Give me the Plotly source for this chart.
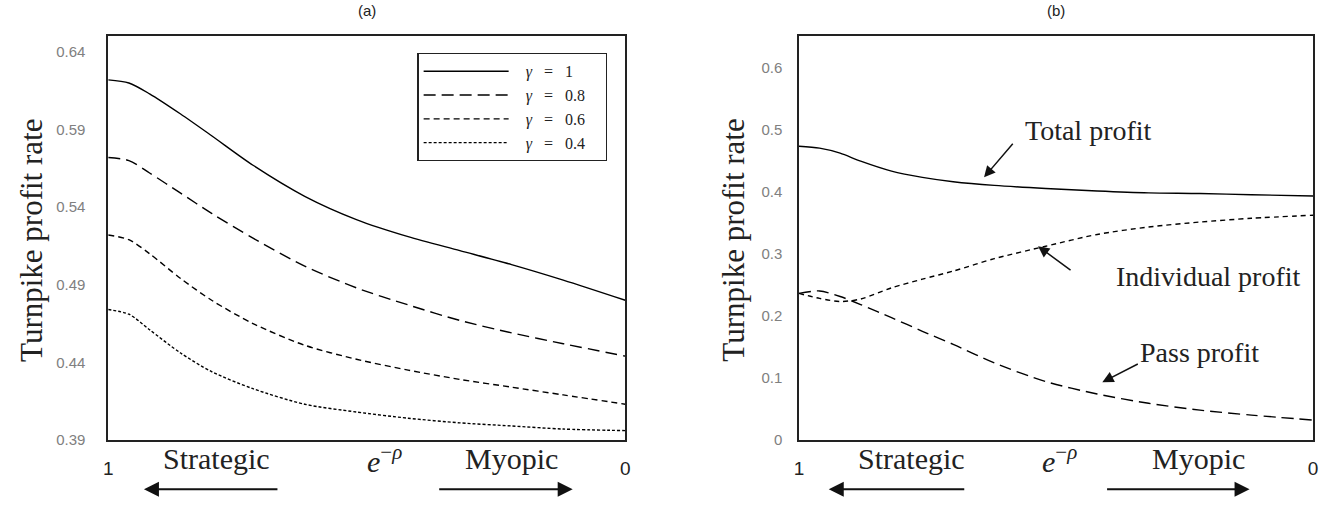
import plotly.graph_objects as go

# ---------- data: panel (a) ----------
x_a = [1.0, 0.96, 0.92, 0.86, 0.80, 0.72, 0.62, 0.52, 0.42, 0.32, 0.22, 0.12, 0.0]
gamma_1 = [0.622, 0.620, 0.613, 0.600, 0.586, 0.567, 0.547, 0.532, 0.521, 0.512, 0.503, 0.493, 0.480]
gamma_08 = [0.572, 0.570, 0.562, 0.549, 0.536, 0.520, 0.502, 0.488, 0.477, 0.467, 0.459, 0.452, 0.444]
gamma_06 = [0.522, 0.519, 0.510, 0.494, 0.480, 0.465, 0.451, 0.442, 0.435, 0.429, 0.424, 0.419, 0.413]
gamma_04 = [0.474, 0.471, 0.461, 0.446, 0.434, 0.423, 0.413, 0.408, 0.404, 0.401, 0.399, 0.397, 0.396]
NB = "\u00a0"
legend_a = [NB * 3 + "<i>γ</i>" + NB * 3 + "=" + NB * 3 + "1",
            NB * 3 + "<i>γ</i>" + NB * 3 + "=" + NB * 3 + "0.8" + NB * 4,
            NB * 3 + "<i>γ</i>" + NB * 3 + "=" + NB * 3 + "0.6",
            NB * 3 + "<i>γ</i>" + NB * 3 + "=" + NB * 3 + "0.4"]
yticks_a = [0.39, 0.44, 0.49, 0.54, 0.59, 0.64]

# ---------- data: panel (b) ----------
x_b = [1.0, 0.96, 0.92, 0.88, 0.82, 0.76, 0.70, 0.62, 0.52, 0.42, 0.32, 0.22, 0.12, 0.0]
total_profit = [0.473, 0.470, 0.462, 0.449, 0.433, 0.423, 0.416, 0.410, 0.405, 0.401, 0.398, 0.397, 0.395, 0.393]
individual_profit = [0.236, 0.228, 0.223, 0.227, 0.245, 0.259, 0.272, 0.292, 0.312, 0.331, 0.343, 0.351, 0.357, 0.362]
pass_profit = [0.236, 0.240, 0.231, 0.218, 0.197, 0.175, 0.154, 0.124, 0.094, 0.074, 0.059, 0.048, 0.040, 0.032]
yticks_b = [0, 0.1, 0.2, 0.3, 0.4, 0.5, 0.6]
xticks = [1, 0]
xtick_text = ["1", "0"]

SERIF = "Liberation Serif, Times New Roman, serif"
SANS = "Liberation Sans, Arial, sans-serif"

fig = go.Figure()

dashes_a = ["solid", "12px,6px", "6px,4px", "3px,2px"]
for ys, name, d in zip([gamma_1, gamma_08, gamma_06, gamma_04], legend_a, dashes_a):
    fig.add_trace(go.Scatter(x=x_a, y=ys, mode="lines", name=name,
                             line=dict(color="black", width=1.4, dash=d, shape="spline", smoothing=0.8),
                             xaxis="x", yaxis="y", showlegend=True))

for ys, name, d in zip([total_profit, individual_profit, pass_profit],
                       ["Total profit", "Individual profit", "Pass profit"],
                       ["solid", "5px,4px", "12px,6px"]):
    fig.add_trace(go.Scatter(x=x_b, y=ys, mode="lines", name=name,
                             line=dict(color="black", width=1.4, dash=d, shape="spline", smoothing=0.8),
                             xaxis="x2", yaxis="y2", showlegend=False))

W, H = 1331, 506
ax_common = dict(showline=True, mirror=True, linecolor="#222", linewidth=1.5, showgrid=False, zeroline=False,
                 ticks="")
fig.update_layout(
    width=W, height=H,
    margin=dict(l=0, r=0, t=0, b=0),
    plot_bgcolor="white", paper_bgcolor="white",
    xaxis=dict(domain=[104 / W, 625 / W], range=[1, 0], tickvals=xticks, ticktext=xtick_text,
               tickfont=dict(family=SANS, size=19, color="#222"), ticklabelstandoff=11, **ax_common),
    yaxis=dict(domain=[(H - 447) / H, (H - 37) / H], range=[0.39, 0.65], tickvals=yticks_a,
               ticktext=[f"{v:.2f}" for v in yticks_a],
               tickfont=dict(family=SANS, size=15, color="#808080"), ticklabelstandoff=18, **ax_common),
    xaxis2=dict(domain=[800 / W, 1318 / W], range=[1, 0], tickvals=xticks, ticktext=xtick_text,
                tickfont=dict(family=SANS, size=19, color="#222"), ticklabelstandoff=11, anchor="y2", **ax_common),
    yaxis2=dict(domain=[(H - 447) / H, (H - 37) / H], range=[0, 0.65], tickvals=yticks_b,
                ticktext=[f"{v:g}" for v in yticks_b],
                tickfont=dict(family=SANS, size=15, color="#808080"), ticklabelstandoff=12, anchor="x2", **ax_common),
    legend=dict(x=607 / W, xanchor="right", y=(H - 54) / H, yanchor="top", bordercolor="#222", borderwidth=1.2,
                bgcolor="white", font=dict(family=SERIF, size=16, color="#222"), itemwidth=85,
                tracegroupgap=0),
    showlegend=True,
)

ann = []
# panel titles
for xc, t in [((104 + 625) / 2 / W, "(a)"), ((800 + 1318) / 2 / W, "(b)")]:
    ann.append(dict(x=xc, y=(H - 11) / H, xref="paper", yref="paper", text=t, showarrow=False,
                    font=dict(family=SANS, size=15, color="#222"), xanchor="center", yanchor="middle"))
# y axis titles
for xc in [26 / W, 734 / W]:
    ann.append(dict(x=xc, y=(H - 244) / H, xref="paper", yref="paper", text="Turnpike profit rate", textangle=-90,
                    showarrow=False, font=dict(family=SERIF, size=31, color="#222"),
                    xanchor="center", yanchor="middle"))
# x axis labels
for xs, xe, xm in [(213, 382, 510), (913, 1062, 1203)]:
    ann.append(dict(x=xs / W, y=(H - 466) / H, xref="paper", yref="paper", text="Strategic", showarrow=False,
                    font=dict(family=SERIF, size=30, color="#222"), xanchor="center", yanchor="middle"))
    ann.append(dict(x=xe / W, y=(H - 466) / H, xref="paper", yref="paper", text="<i>e</i><sup>−<i>ρ</i></sup>",
                    showarrow=False, font=dict(family=SERIF, size=30, color="#222"), xanchor="center",
                    yanchor="middle"))
    ann.append(dict(x=xm / W, y=(H - 466) / H, xref="paper", yref="paper", text="Myopic", showarrow=False,
                    font=dict(family=SERIF, size=30, color="#222"), xanchor="center", yanchor="middle"))
# direction arrows
for head, tail in [(140, 275), (572, 437), (830, 967), (1254, 1110)]:
    ann.append(dict(x=head / W, y=(H - 497) / H, xref="paper", yref="paper", ax=tail - head, ay=0, text="",
                    showarrow=True, arrowhead=2, arrowsize=1.5, arrowwidth=2, arrowcolor="#111"))
# panel (b) callouts
callouts = [
    ("Total profit", 0.64, 0.423, 30, -35, 1092, 133),
    ("Individual profit", 0.535, 0.312, 34, 25, 1213, 281),
    ("Pass profit", 0.41, 0.093, 37, -19, 1204, 358),
]
for t, xh, yh, axo, ayo, tx, ty in callouts:
    ann.append(dict(x=xh, y=yh, xref="x2", yref="y2", ax=axo, ay=ayo, text="", showarrow=True,
                    arrowhead=2, arrowsize=1.5, arrowwidth=1.5, arrowcolor="#111"))
    ann.append(dict(x=tx / W, y=(H - ty) / H, xref="paper", yref="paper", text=t, showarrow=False,
                    font=dict(family=SERIF, size=28, color="#222"), xanchor="center", yanchor="middle"))
fig.update_layout(annotations=ann)

fig.write_html("out.html", config={"displayModeBar": False})

# remove the default page margin so the figure sits at the window origin
with open("out.html", "r", encoding="utf-8") as f:
    html = f.read()
html = html.replace("<body>", '<body style="margin:0;overflow:hidden;">', 1)
with open("out.html", "w", encoding="utf-8") as f:
    f.write(html)
